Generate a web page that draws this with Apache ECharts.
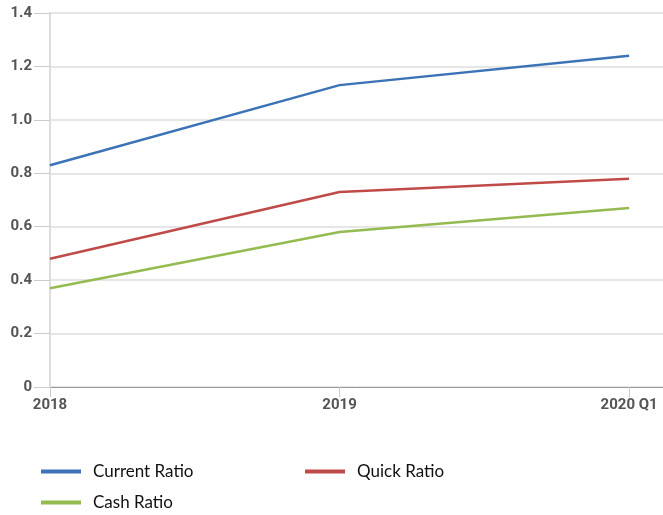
<!DOCTYPE html>
<html>
<head>
<meta charset="utf-8">
<script src="https://cdn.jsdelivr.net/npm/echarts@6/dist/echarts.min.js"></script>
<style>
  html, body { margin: 0; padding: 0; background: #fff; }
  #chart { width: 663px; height: 515px; }
</style>
</head>
<body>
<div id="chart"></div>
<script>
// Liquidity ratios by period
const periods = ['2018', '2019', '2020 Q1'];
const currentRatio = [0.83, 1.13, 1.24];
const quickRatio = [0.48, 0.73, 0.78];
const cashRatio = [0.37, 0.58, 0.67];
const yTicks = [0, 0.2, 0.4, 0.6, 0.8, 1.0, 1.2, 1.4];

const chart = echarts.init(document.getElementById('chart'));

const toPoints = vals => vals.map((v, i) => [i, v]);

const lineSeries = (name, vals, color) => ({
  name,
  type: 'line',
  data: toPoints(vals),
  symbol: 'none',
  lineStyle: { color, width: 2.5 },
  itemStyle: { color },
});

// one legend block per entry so the two-column layout can be placed exactly
const legendAt = (name, left, top) => ({
  left, top,
  itemWidth: 40, itemHeight: 4,
  icon: 'rect',
  data: [name],
  textStyle: { fontFamily: 'Lato', fontSize: 17, color: '#111', padding: [0, 0, 0, 7] },
});

const tickFont = { color: '#555', fontWeight: 'bold', fontSize: 15, fontFamily: 'Roboto' };

chart.setOption({
  animation: false,
  legend: [
    legendAt('Current Ratio', 36, 458),
    legendAt('Cash Ratio', 36, 489),
    legendAt('Quick Ratio', 300, 458),
  ],
  grid: { left: 50, right: 0, top: 13, bottom: 128 },
  xAxis: {
    type: 'value',
    min: 0, max: 2.117, interval: 1,
    axisLine: { lineStyle: { color: '#999' } },
    axisTick: { show: true, length: 10, lineStyle: { color: '#ccc' } },
    splitLine: { show: false },
    axisLabel: {
      ...tickFont,
      margin: 11, showMaxLabel: false,
      formatter: v => periods[v] ?? '',
    },
  },
  yAxis: {
    type: 'value',
    min: yTicks[0], max: yTicks[yTicks.length - 1], interval: 0.2,
    axisLine: { show: true, lineStyle: { color: '#ddd', width: 2 } },
    axisTick: { show: true, length: 16, lineStyle: { color: '#ccc' } },
    splitLine: { lineStyle: { color: '#e6e6e6', width: 2 } },
    axisLabel: {
      ...tickFont,
      margin: 18,
      formatter: v => (v === 0 ? '0' : v.toFixed(1)),
    },
  },
  series: [
    lineSeries('Current Ratio', currentRatio, '#3c73b6'),
    lineSeries('Quick Ratio', quickRatio, '#bf4b48'),
    lineSeries('Cash Ratio', cashRatio, '#94bb50'),
  ],
});
</script>
</body>
</html>
